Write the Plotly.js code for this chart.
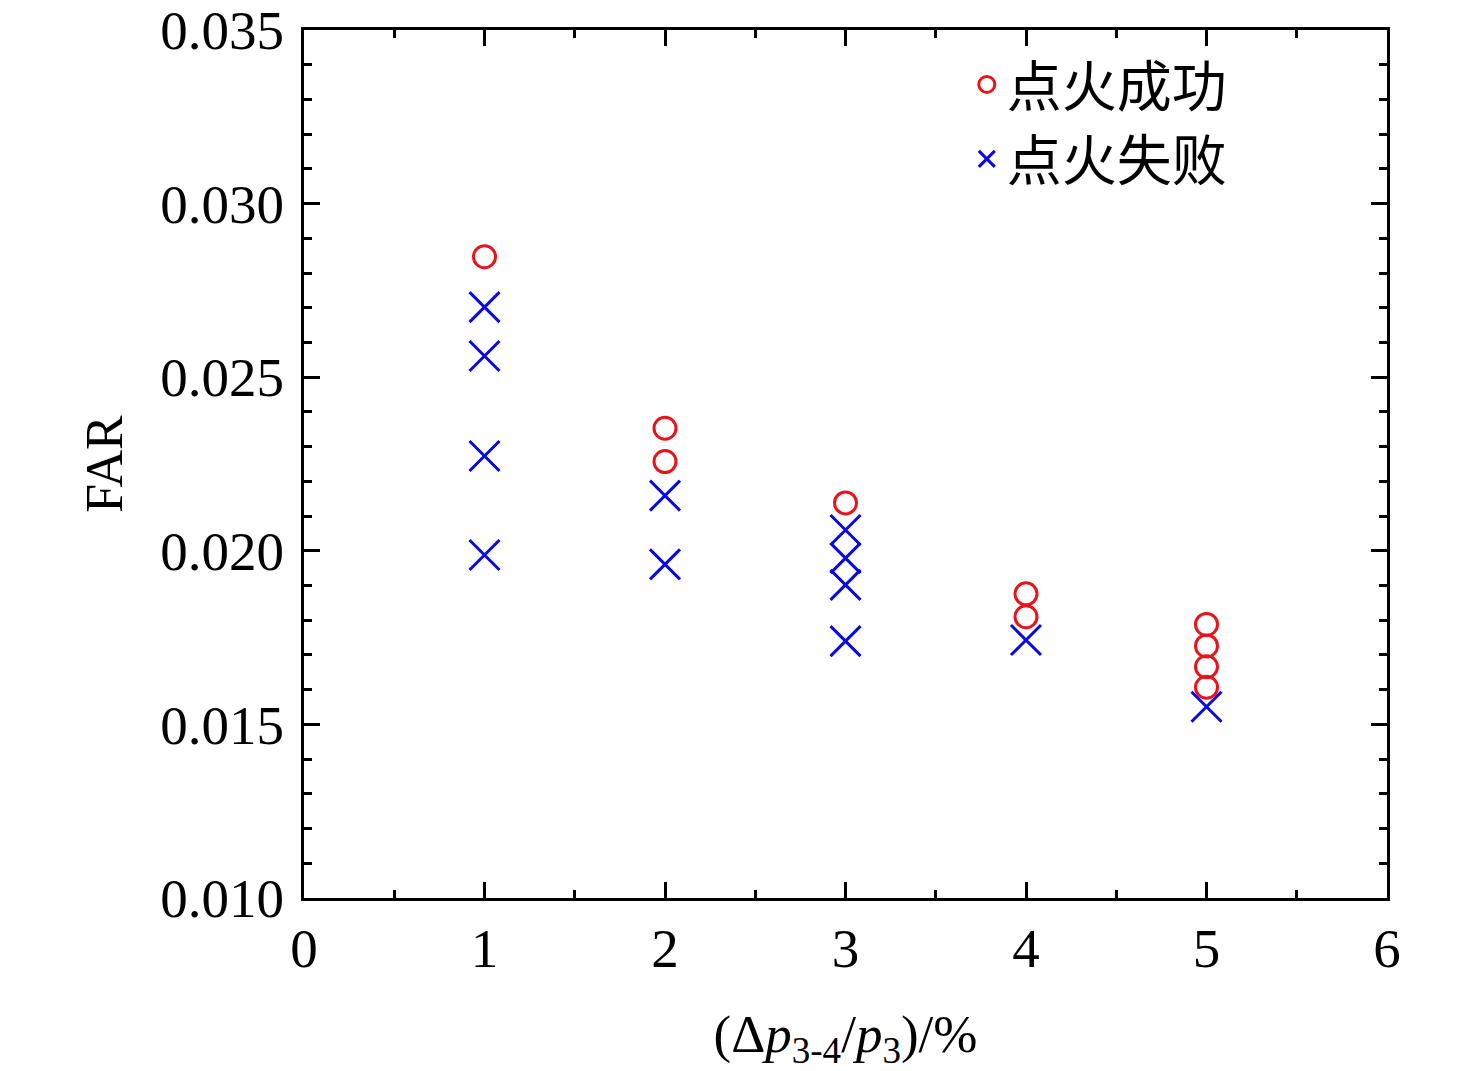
<!DOCTYPE html>
<html>
<head>
<meta charset="utf-8">
<script src="https://cdn.plot.ly/plotly-3.0.1.min.js"></script>
<style>
  html, body { margin: 0; padding: 0; background: #fff; }
  #chart { width: 1476px; height: 1071px; }
</style>
</head>
<body>
<div id="chart"></div>
<script>
// 点火成功
const okX = [1, 2, 2, 3, 4, 4, 5, 5, 5, 5];
const okY = [0.02847, 0.02353, 0.02257, 0.02138, 0.01876, 0.01810, 0.01788, 0.01726, 0.01666, 0.01607];
// 点火失败
const failX = [1, 1, 1, 1, 2, 2, 3, 3, 3, 3, 4, 5];
const failY = [0.02702, 0.02561, 0.02273, 0.01988, 0.02159, 0.01961, 0.02060, 0.01979, 0.01902, 0.01740, 0.01743, 0.01551];

const seriesNames = ['点火成功', '点火失败'];
const xTicks = [0, 1, 2, 3, 4, 5, 6];
const yTicks = [0.010, 0.015, 0.020, 0.025, 0.030, 0.035];

const serif = 'Liberation Serif, Times New Roman, Noto Sans CJK SC, serif';

const axisBase = {
  showline: true, linecolor: '#000', linewidth: 3, mirror: 'ticks',
  ticks: 'inside', ticklen: 16, tickwidth: 3, tickcolor: '#000',
  showgrid: false, zeroline: false,
  tickfont: { family: serif, size: 55, color: '#000' },
};

Plotly.newPlot('chart', [
  { type: 'scatter', mode: 'markers', x: okX, y: okY, name: seriesNames[0],
    marker: { symbol: 'circle-open', size: 22, color: '#e8141b', line: { width: 3, color: '#e8141b' } } },
  { type: 'scatter', mode: 'markers', x: failX, y: failY, name: seriesNames[1],
    marker: { symbol: 'x-thin-open', size: 30, color: '#0a0ae0', line: { width: 3, color: '#0a0ae0' } } },
], {
  width: 1476, height: 1071,
  paper_bgcolor: '#fff', plot_bgcolor: '#fff',
  margin: { l: 304, r: 89, t: 30, b: 173 },
  showlegend: true,
  legend: {
    x: 0.612, y: 0.986, xanchor: 'left', yanchor: 'top',
    bgcolor: 'rgba(0,0,0,0)', borderwidth: 0, itemwidth: 30,
    font: { family: 'Noto Sans CJK SC, sans-serif', size: 55, color: '#000' },
  },
  xaxis: {
    ...axisBase, range: [0, 6], tickvals: xTicks, ticktext: xTicks.map(String),
    minor: { dtick: 0.5, ticks: 'inside', ticklen: 8, tickwidth: 3, tickcolor: '#000' },
    title: { text: '(Δ<i>p</i><sub>3-4</sub>/<i>p</i><sub>3</sub>)/%', font: { family: serif, size: 53, color: '#000' }, standoff: 40 },
  },
  yaxis: {
    ...axisBase, range: [0.010, 0.035], tickvals: yTicks, tickformat: '.3f', ticklabelstandoff: 6,
    minor: { dtick: 0.001, ticks: 'inside', ticklen: 8, tickwidth: 3, tickcolor: '#000' },
    title: { text: 'FAR', font: { family: serif, size: 52, color: '#000' }, standoff: 22 },
  },
}, { displayModeBar: false, staticPlot: true });
</script>
</body>
</html>
